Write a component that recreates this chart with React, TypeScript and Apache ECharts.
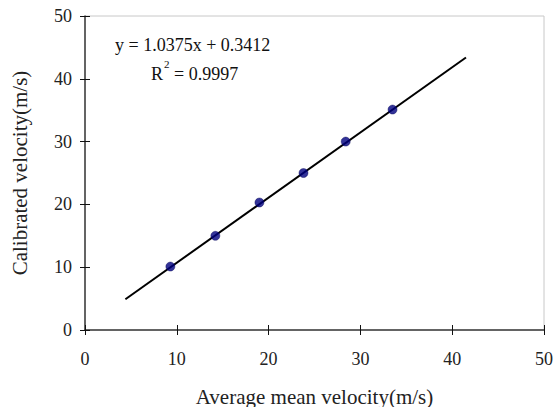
import React, { useEffect, useRef } from "react";
import * as echarts from "echarts";

const avgMeanVelocity = [9.3, 14.2, 19.0, 23.8, 28.4, 33.5];
const calibratedVelocity = [10.1, 15.0, 20.3, 25.0, 30.0, 35.1];
const fitLineX = [4.4, 41.5];
const fitLineY = [4.9, 43.4];
const axisTicks = [0, 10, 20, 30, 40, 50];
const equationText = "y = 1.0375x + 0.3412";
const r2Value = "0.9997";

export default function App() {
  const ref = useRef<HTMLDivElement>(null);
  useEffect(() => {
    document.body.style.margin = "0";
    document.body.style.overflow = "hidden";
    if (!ref.current) return;
    const chart = echarts.init(ref.current, undefined, { renderer: "svg" });
    const font = "'Liberation Serif', 'Times New Roman', serif";
    const axisColor = "#3a3a3a";
    const baseX = {
      type: "value" as const,
      min: axisTicks[0],
      max: axisTicks[axisTicks.length - 1],
      interval: 10,
      splitLine: { show: false },
    };
    chart.setOption({
      animation: false,
      backgroundColor: "#ffffff",
      textStyle: { fontFamily: font },
      grid: {
        left: 85,
        right: 11,
        top: 16,
        bottom: 77,
        show: true,
        borderColor: "#c8c8c8",
        borderWidth: 1,
        backgroundColor: "transparent",
        containLabel: false,
        outerBoundsMode: "none",
      },
      xAxis: [
        {
          ...baseX,
          position: "bottom",
          name: "Average mean velocity(m/s)",
          nameLocation: "middle",
          nameGap: 56,
          nameTextStyle: { fontFamily: font, fontSize: 21, color: "#222" },
          axisLine: { show: true, lineStyle: { color: axisColor, width: 1.5 } },
          axisTick: { show: true, inside: false, length: 5, lineStyle: { color: "#111", width: 1 } },
          axisLabel: { fontFamily: font, fontSize: 18, color: "#222", margin: 20 },
        },
        {
          ...baseX,
          position: "bottom",
          axisLine: { show: false },
          axisTick: { show: true, inside: true, length: 5, lineStyle: { color: "#111", width: 1 } },
          axisLabel: { show: false },
        },
      ],
      yAxis: [
        {
          ...baseX,
          position: "left",
          name: "Calibrated velocity(m/s)",
          nameLocation: "middle",
          nameGap: 55,
          nameTextStyle: { fontFamily: font, fontSize: 21, color: "#222" },
          axisLine: { show: true, lineStyle: { color: axisColor, width: 1.5 } },
          axisTick: { show: true, inside: false, length: 5, lineStyle: { color: "#111", width: 1 } },
          axisLabel: { fontFamily: font, fontSize: 18, color: "#222", margin: 13 },
        },
        {
          ...baseX,
          position: "left",
          axisLine: { show: false },
          axisTick: { show: true, inside: true, length: 5, lineStyle: { color: "#111", width: 1 } },
          axisLabel: { show: false },
        },
      ],
      series: [
        {
          type: "line",
          data: fitLineX.map((x, i) => [x, fitLineY[i]]),
          showSymbol: false,
          symbol: "none",
          lineStyle: { color: "#000", width: 2 },
          z: 2,
        },
        {
          type: "scatter",
          data: avgMeanVelocity.map((x, i) => [x, calibratedVelocity[i]]),
          symbol: "circle",
          symbolSize: 9,
          itemStyle: { color: "#000080", borderColor: "#000050", borderWidth: 0.5 },
          z: 3,
        },
      ],
      graphic: [
        {
          type: "text",
          left: 115,
          top: 36,
          style: { text: equationText, font: `18px ${font}`, fill: "#111" },
        },
        {
          type: "text",
          left: 151,
          top: 65,
          style: { text: "R", font: `18px ${font}`, fill: "#111" },
        },
        {
          type: "text",
          left: 164,
          top: 58,
          style: { text: "2", font: `11px ${font}`, fill: "#111" },
        },
        {
          type: "text",
          left: 174,
          top: 65,
          style: { text: "= " + r2Value, font: `18px ${font}`, fill: "#111" },
        },
      ],
    });
    return () => chart.dispose();
  }, []);
  return <div ref={ref} style={{ width: 555, height: 407 }} />;
}
